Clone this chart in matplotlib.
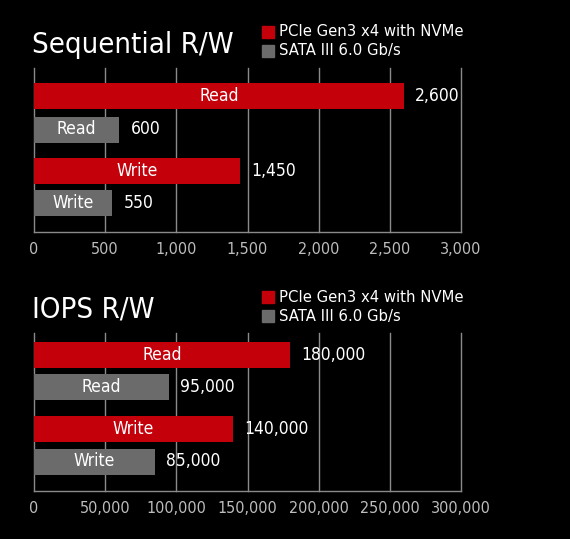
import numpy as np
import matplotlib
matplotlib.use("Agg")
import matplotlib.pyplot as plt
from matplotlib import font_manager

# data
ops = ["Read", "Write"]
seq_nvme = [2600, 1450]
seq_sata = [600, 550]
iops_nvme = [180000, 140000]
iops_sata = [95000, 85000]
seq_ticks = [0, 500, 1000, 1500, 2000, 2500, 3000]
iops_ticks = [0, 50000, 100000, 150000, 200000, 250000, 300000]
series_names = ["PCIe Gen3 x4 with NVMe", "SATA III 6.0 Gb/s"]

RED = "#c4000a"
GRAY = "#6b6b6b"

# look for a narrow regular face, the original uses a condensed DIN-like font
narrow = None
for f in font_manager.fontManager.ttflist:
    is_narrow = f.stretch in ("condensed", "semi-condensed", "extra-condensed") or \
        "Narrow" in f.name or "Condensed" in f.name
    if is_narrow and f.style == "normal" and f.weight in (400, "normal", "regular", "book"):
        narrow = f
        break
if narrow is None:
    for f in font_manager.fontManager.ttflist:
        if f.stretch in ("condensed", "semi-condensed") or "Condensed" in f.name:
            narrow = f
            break


def fp(size):
    if narrow is not None:
        return font_manager.FontProperties(fname=narrow.fname, size=size)
    return font_manager.FontProperties(family="DejaVu Sans", size=size * 0.85)


W, H = 570, 539
fig = plt.figure(figsize=(W / 100, H / 100), dpi=100, facecolor="black")


def px_axes(left, top, right, bottom):
    return fig.add_axes([left / W, 1 - bottom / H, (right - left) / W, (bottom - top) / H])


def panel(top, bottom, title, nvme, sata, ticks, centers):
    ax = px_axes(34, top, 461, bottom)
    ax.set_facecolor("black")
    span = bottom - top
    ax.set_ylim(span, 0)
    ax.set_xlim(ticks[0], ticks[-1])
    off = ticks[-1] * 11 / 427
    for i, op in enumerate(ops):
        for val, col, y in [(nvme[i], RED, centers[2 * i]), (sata[i], GRAY, centers[2 * i + 1])]:
            ax.barh(y, val, height=26, color=col, zorder=3)
            ax.text(val / 2, y, op, color="white", ha="center", va="center",
                    fontproperties=fp(12.5), zorder=4)
            ax.text(val + off, y, f"{val:,}", color="white", ha="left", va="center",
                    fontproperties=fp(12.5), zorder=4)
    ax.set_xticks(ticks)
    ax.set_xticklabels([f"{t:,}" for t in ticks], color="#bdbdbd", fontproperties=fp(11.5))
    ax.set_yticks([])
    ax.tick_params(axis="x", length=0, pad=7)
    ax.grid(axis="x", color="#8a8a8a", linewidth=1.0, zorder=0)
    for gl in ax.get_xgridlines():
        gl.set_clip_on(False)
    for s in ["top", "right", "left"]:
        ax.spines[s].set_visible(False)
    ax.spines["bottom"].set_color("#8a8a8a")
    ax.spines["bottom"].set_linewidth(1.0)
    ax.spines["bottom"].set_zorder(1)
    # title and legend above the axes
    fig.text(32 / W, 1 - (top - 23) / H, title, color="white",
             ha="left", va="center", fontproperties=fp(21))
    for j, (name, col) in enumerate(zip(series_names, [RED, GRAY])):
        yc = top - 36 + j * 19
        fig.patches.append(plt.Rectangle((262 / W, 1 - (yc + 6) / H), 12 / W, 12 / H,
                                         transform=fig.transFigure, color=col, figure=fig))
        fig.text(279 / W, 1 - yc / H, name, color="white", fontsize=10.7,
                 family="DejaVu Sans", ha="left", va="center")
    return ax


panel(68, 232, "Sequential R/W", seq_nvme, seq_sata, seq_ticks, [28, 61.5, 102.5, 135])
panel(333, 491, "IOPS R/W", iops_nvme, iops_sata, iops_ticks, [22, 54, 96, 128.5])

fig.savefig("out.png", dpi=100, facecolor="black")
